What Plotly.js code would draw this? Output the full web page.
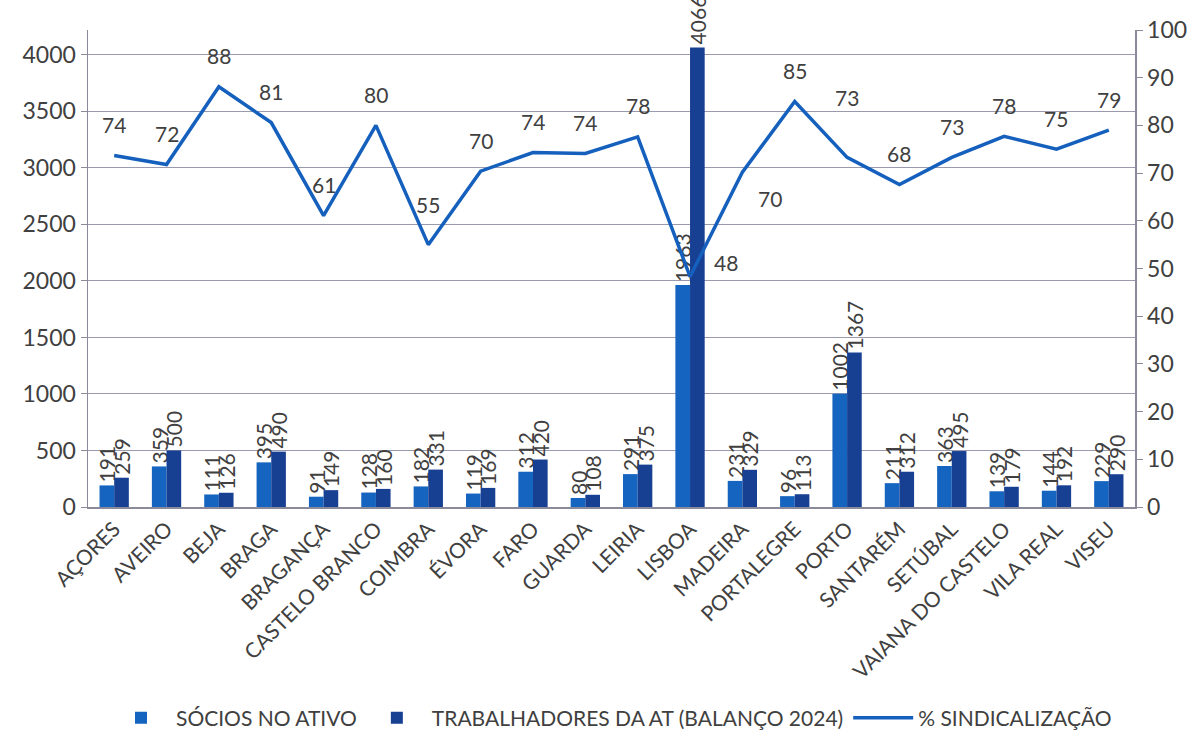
<!DOCTYPE html>
<html>
<head>
<meta charset="utf-8">
<script src="https://cdn.plot.ly/plotly-3.0.1.min.js"></script>
<style>html,body{margin:0;padding:0;background:#fff;}#chart{width:1202px;height:752px;}</style>
</head>
<body>
<div id="chart"></div>
<script>
const categories = ["AÇORES","AVEIRO","BEJA","BRAGA","BRAGANÇA","CASTELO BRANCO","COIMBRA","ÉVORA","FARO","GUARDA","LEIRIA","LISBOA","MADEIRA","PORTALEGRE","PORTO","SANTARÉM","SETÚBAL","VAIANA DO CASTELO","VILA REAL","VISEU"];
const socios = [191,359,111,395,91,128,182,119,312,80,291,1963,231,96,1002,211,363,139,144,229];
const trabalhadores = [259,500,126,490,149,160,331,169,420,108,375,4066,329,113,1367,312,495,179,192,290];
const sindicalizacao = [73.7,71.8,88.1,80.6,61.1,80.0,55.0,70.4,74.3,74.1,77.6,48.3,70.2,85.0,73.3,67.6,73.3,77.7,75.0,79.0];

const FONT = "Lato, 'Open Sans', sans-serif";
const TXT = "#404040";
const C1 = "#1565c0", C2 = "#173f92", CL = "#1560bd";

const traces = [
  {type:"bar", name:"SÓCIOS NO ATIVO", x:categories, y:socios, marker:{color:C1},
   text:socios.map(String), textposition:"outside", textangle:-90, cliponaxis:false, constraintext:"none",
   textfont:{family:FONT,size:21,color:TXT}},
  {type:"bar", name:"TRABALHADORES DA AT (BALANÇO 2024)", x:categories, y:trabalhadores, marker:{color:C2},
   text:trabalhadores.map(String), textposition:"outside", textangle:-90, cliponaxis:false, constraintext:"none",
   textfont:{family:FONT,size:21,color:TXT}},
  {type:"scatter", mode:"lines", name:"% SINDICALIZAÇÃO", x:categories, y:sindicalizacao, yaxis:"y2",
   line:{color:CL,width:3.5}}
];

// label placement offsets (pixels)
const place = {6:[0,40], 11:[36,14], 12:[28,-26], 14:[0,60]};
const annotations = sindicalizacao.map((v,i)=>{
  const p = place[i] || [0,31];
  return {x:categories[i], y:v, xref:"x", yref:"y2", text:String(Math.round(v)), showarrow:false,
    xshift:p[0], yshift:p[1], font:{family:FONT,size:21,color:TXT}};
});

const layout = {
  width:1202, height:752,
  margin:{l:88, r:67, t:30, b:245, autoexpand:false},
  paper_bgcolor:"#fff", plot_bgcolor:"#fff",
  barmode:"group", bargap:0.44, bargroupgap:0,
  font:{family:FONT, color:TXT},
  xaxis:{type:"category", tickangle:-45, tickfont:{family:FONT,size:21,color:TXT}, automargin:false,
    showline:true, linecolor:"#8a8a9a", linewidth:1.5, ticks:"", showgrid:false},
  yaxis:{range:[0,4220], dtick:500, tickfont:{family:FONT,size:23,color:TXT}, automargin:false,
    showline:true, linecolor:"#8a8a9a", linewidth:1.5, ticks:"outside", ticklen:6, tickcolor:"#8a8a9a",
    showgrid:true, gridcolor:"#9a9aae", gridwidth:1, zeroline:false},
  yaxis2:{overlaying:"y", side:"right", range:[0,100], dtick:10, tickfont:{family:FONT,size:23,color:TXT}, automargin:false,
    showline:true, linecolor:"#8a8a9a", linewidth:1.5, ticks:"outside", ticklen:6, tickcolor:"#8a8a9a",
    showgrid:false, zeroline:false},
  legend:{orientation:"h", x:0.5, xanchor:"center", yref:"container", y:0.045, yanchor:"middle",
    font:{family:FONT,size:21,color:TXT}, traceorder:"normal", itemwidth:60},
  annotations:annotations,
  showlegend:true
};

Plotly.newPlot("chart", traces, layout, {displayModeBar:false, staticPlot:true});
</script>
</body>
</html>
